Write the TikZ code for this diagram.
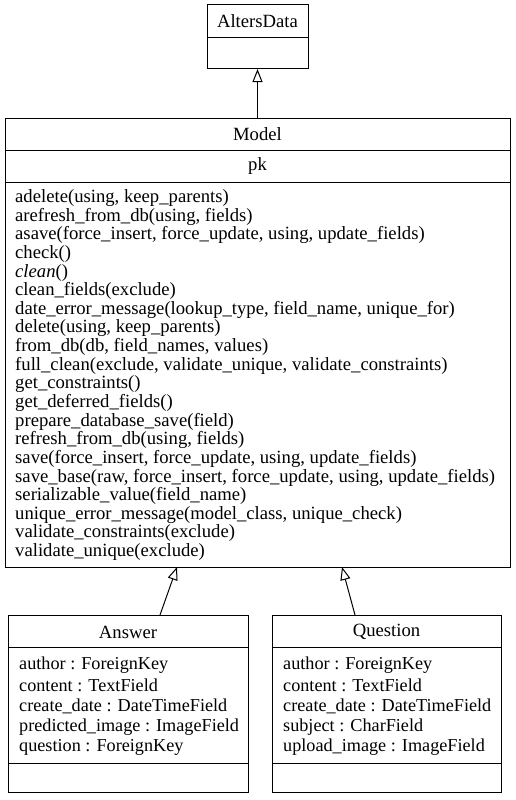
\documentclass[tikz,border=0pt]{standalone}
\usepackage{fontspec}
\setmainfont{Liberation Serif}
\usetikzlibrary{arrows.meta}
\tikzset{
  cls/.style={draw, line width=1pt, anchor=north west, inner sep=0pt, outer sep=0pt},
  ttl/.style={font=\fontsize{18.67}{20}\selectfont, inner sep=0pt},
  mem/.style={font=\fontsize{18.67}{20}\selectfont, inner sep=0pt, anchor=west},
  fld/.style={mem, font=\fontsize{18.2}{20}\selectfont},
  inherit/.style={line width=1pt, -{Triangle[open, length=13pt, width=10pt, line width=1pt]}}
}
\begin{document}
\begin{tikzpicture}[x=1pt, y=-1pt]
  \useasboundingbox (0,0) rectangle (515,800);
  % class boxes
  \node[cls, minimum width=101pt, minimum height=64pt] (alters) at (207,5) {};
  \node[cls, minimum width=505pt, minimum height=449pt] (model) at (5,118) {};
  \node[cls, minimum width=240pt, minimum height=177pt] (answer) at (8,615) {};
  \node[cls, minimum width=229pt, minimum height=177pt] (question) at (272,615) {};
  % compartments
  \draw[line width=1pt] (207,38) -- (308,38);
  \draw[line width=1pt] (5,150) -- (510,150) (5,182) -- (510,182);
  \foreach \y in {647,763} {
    \draw[line width=1pt] (8,\y) -- (248,\y) (272,\y) -- (501,\y);
  }
  % titles
  \node[ttl] (t-alters) at (257.5,21) {AltersData};
  \node[ttl] (t-model) at (257.5,134) {Model};
  \node[ttl] (t-pk) at (257.5,166) {pk};
  \node[ttl] (t-answer) at (128,632) {Answer};
  \node[ttl] (t-question) at (386.5,632) {Question};
  % methods of Model
  \foreach \m [count=\i] in {
    {adelete(using, keep\_parents)},
    {arefresh\_from\_db(using, fields)},
    {asave(force\_insert, force\_update, using, update\_fields)},
    {check()},
    {\textit{clean}()},
    {clean\_fields(exclude)},
    {date\_error\_message(lookup\_type, field\_name, unique\_for)},
    {delete(using, keep\_parents)},
    {from\_db(db, field\_names, values)},
    {full\_clean(exclude, validate\_unique, validate\_constraints)},
    {get\_constraints()},
    {get\_deferred\_fields()},
    {prepare\_database\_save(field)},
    {refresh\_from\_db(using, fields)},
    {save(force\_insert, force\_update, using, update\_fields)},
    {save\_base(raw, force\_insert, force\_update, using, update\_fields)},
    {serializable\_value(field\_name)},
    {unique\_error\_message(model\_class, unique\_check)},
    {validate\_constraints(exclude)},
    {validate\_unique(exclude)}}
    \node[mem] (m\i) at (15,{198+(\i-1)*18.63}) {\m};
  % fields
  \foreach \f [count=\i] in {author : ForeignKey, content : TextField,
    create\_date : DateTimeField, predicted\_image : ImageField, question : ForeignKey}
    \node[fld] (a\i) at (19,{665+(\i-1)*20.6}) {\f};
  \foreach \f [count=\i] in {author : ForeignKey, content : TextField,
    create\_date : DateTimeField, subject : CharField, upload\_image : ImageField}
    \node[fld] (q\i) at (283,{665+(\i-1)*20.6}) {\f};
  % inheritance
  \coordinate (m-ans) at (177,567);
  \coordinate (m-que) at (342,567);
  \coordinate (a-top) at (160,615);
  \coordinate (q-top) at (355,615);
  \draw[inherit] (model.north -| alters.south) -- (alters.south);
  \draw[inherit] (a-top) -- (m-ans);
  \draw[inherit] (q-top) -- (m-que);
\end{tikzpicture}
\end{document}
